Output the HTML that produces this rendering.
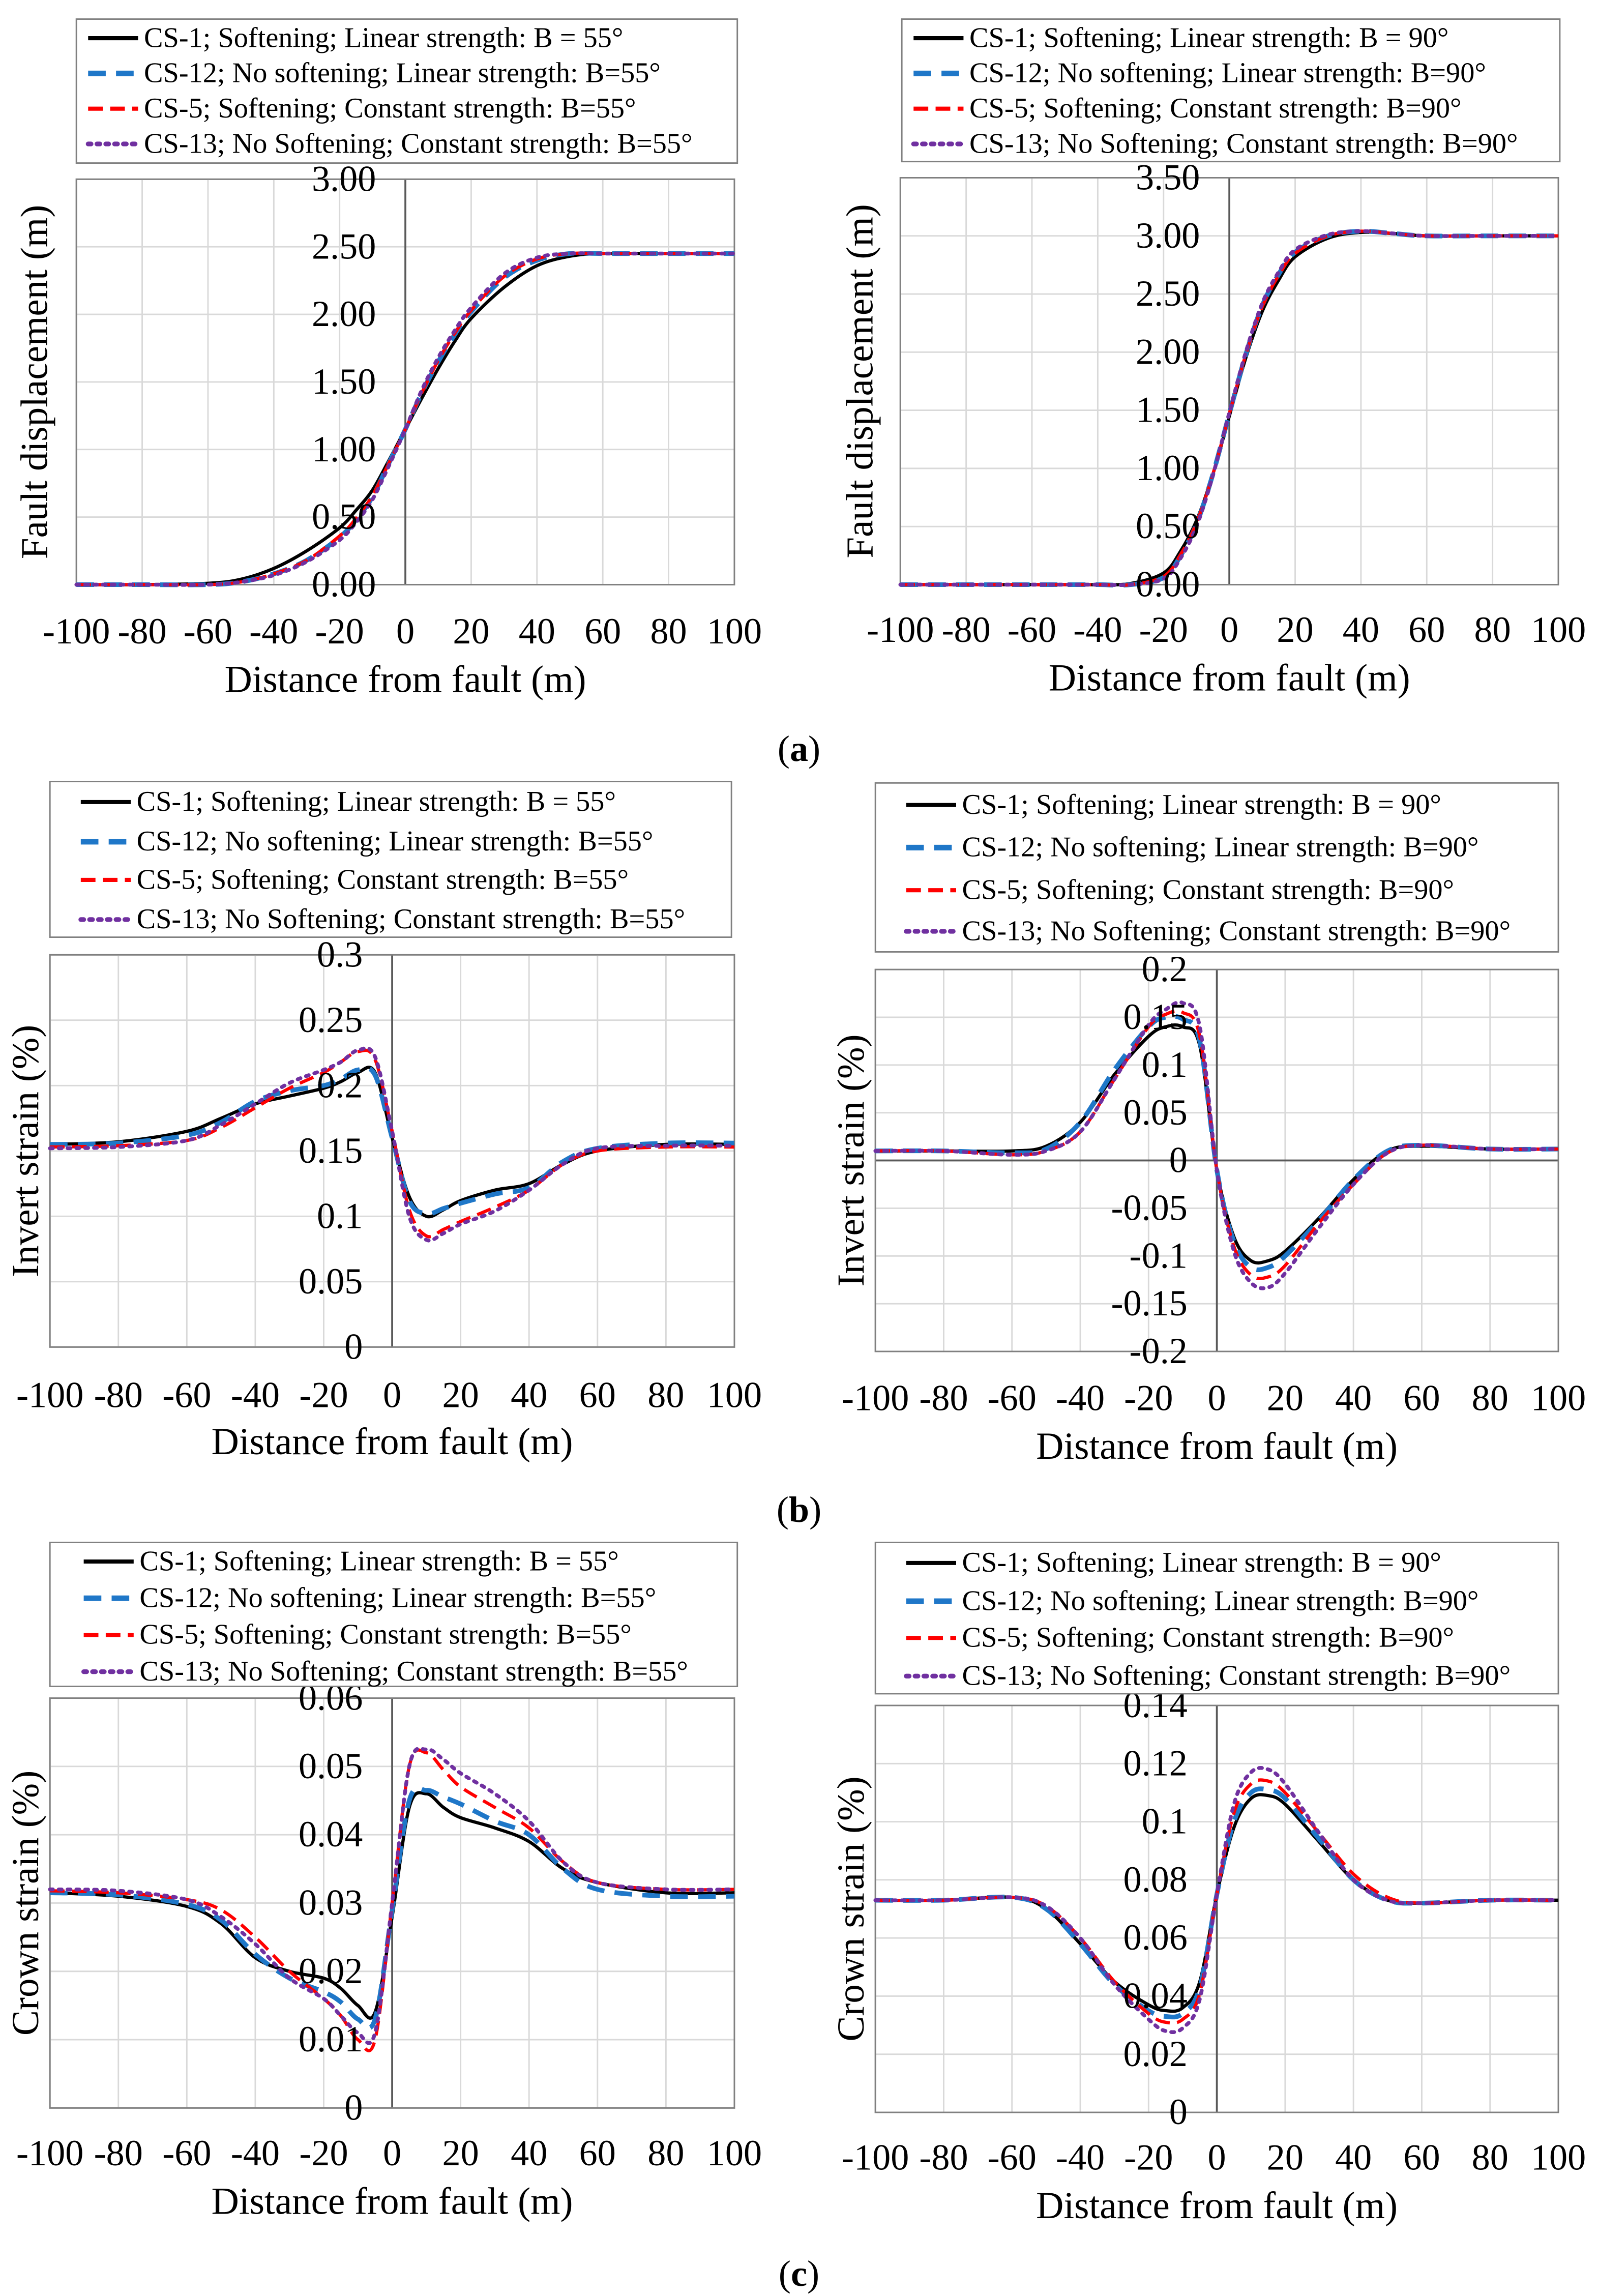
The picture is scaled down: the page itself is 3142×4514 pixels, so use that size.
<!DOCTYPE html>
<html><head><meta charset="utf-8">
<style>
html,body{margin:0;padding:0;background:#fff;}
svg{display:block;font-family:"Liberation Serif",serif;}
</style></head>
<body>
<svg id="fig" width="3142" height="4514" viewBox="0 0 1088 1563" preserveAspectRatio="none" xmlns="http://www.w3.org/2000/svg"></svg>
<script>
const xs = [-100,-80,-60,-50,-40,-30,-20,-15,-10,-5,0,5,10,15,20,30,40,50,60,80,100];
const xTicks = [-100,-80,-60,-40,-20,0,20,40,60,80,100];

// (a) left
const aL_cs1  = [0,0,0.01,0.04,0.12,0.25,0.42,0.55,0.7,0.92,1.15,1.38,1.6,1.8,1.97,2.2,2.36,2.43,2.45,2.45,2.45];
const aL_cs12 = [0,0,0,0.02,0.08,0.18,0.35,0.48,0.65,0.9,1.15,1.42,1.65,1.85,2.02,2.27,2.4,2.45,2.45,2.45,2.45];
const aL_cs5  = [0,0,0,0.02,0.08,0.18,0.36,0.49,0.66,0.9,1.15,1.42,1.66,1.86,2.03,2.28,2.41,2.45,2.45,2.45,2.45];
const aL_cs13 = [0,0,0,0.02,0.07,0.17,0.33,0.46,0.63,0.88,1.15,1.44,1.68,1.88,2.05,2.3,2.42,2.45,2.45,2.45,2.45];
// (a) right
const aR_cs1  = [0,0,0,0,0,0.01,0.1,0.28,0.55,0.95,1.45,1.95,2.35,2.62,2.82,2.98,3.03,3.02,3.0,3.0,3.0];
const aR_cs12 = [0,0,0,0,0,0,0.06,0.24,0.52,0.95,1.47,1.98,2.4,2.67,2.86,3.0,3.04,3.02,3.0,3.0,3.0];
const aR_cs5  = [0,0,0,0,0,0,0.07,0.25,0.53,0.95,1.47,1.98,2.39,2.66,2.85,3.0,3.04,3.02,3.0,3.0,3.0];
const aR_cs13 = [0,0,0,0,0,0,0.05,0.22,0.5,0.94,1.48,2.0,2.42,2.69,2.88,3.01,3.04,3.02,3.0,3.0,3.0];
// (b) left
const bL_cs1  = [0.155,0.157,0.165,0.175,0.186,0.192,0.198,0.203,0.21,0.21,0.16,0.115,0.1,0.105,0.112,0.12,0.125,0.14,0.15,0.155,0.155];
const bL_cs12 = [0.155,0.156,0.162,0.172,0.188,0.196,0.2,0.205,0.212,0.208,0.16,0.112,0.102,0.106,0.11,0.117,0.122,0.142,0.152,0.156,0.156];
const bL_cs5  = [0.153,0.154,0.158,0.168,0.183,0.198,0.21,0.218,0.226,0.22,0.165,0.105,0.085,0.09,0.096,0.107,0.12,0.14,0.15,0.153,0.153];
const bL_cs13 = [0.152,0.153,0.158,0.17,0.186,0.202,0.212,0.218,0.227,0.222,0.165,0.1,0.082,0.087,0.094,0.104,0.12,0.14,0.152,0.154,0.154];
// (b) right
const bR_cs1  = [0.01,0.01,0.01,0.015,0.04,0.09,0.13,0.14,0.14,0.12,-0.01,-0.08,-0.105,-0.105,-0.095,-0.06,-0.02,0.01,0.015,0.012,0.012];
const bR_cs12 = [0.01,0.01,0.008,0.012,0.04,0.095,0.14,0.15,0.148,0.125,-0.01,-0.085,-0.112,-0.112,-0.1,-0.062,-0.02,0.01,0.016,0.012,0.012];
const bR_cs5  = [0.01,0.01,0.006,0.01,0.03,0.085,0.14,0.153,0.155,0.13,-0.01,-0.09,-0.12,-0.122,-0.11,-0.065,-0.025,0.008,0.016,0.012,0.012];
const bR_cs13 = [0.01,0.01,0.006,0.01,0.03,0.085,0.142,0.158,0.165,0.14,-0.01,-0.095,-0.128,-0.133,-0.118,-0.07,-0.025,0.008,0.016,0.012,0.012];
// (c) left
const cL_cs1  = [0.0315,0.031,0.0295,0.027,0.022,0.02,0.019,0.0175,0.015,0.014,0.028,0.044,0.046,0.044,0.0425,0.041,0.039,0.035,0.033,0.0315,0.0315];
const cL_cs12 = [0.0315,0.0312,0.0298,0.0275,0.0225,0.019,0.017,0.0155,0.013,0.013,0.029,0.045,0.0465,0.0455,0.0445,0.042,0.04,0.035,0.032,0.031,0.031];
const cL_cs5  = [0.0318,0.0315,0.0305,0.029,0.025,0.02,0.016,0.0135,0.01,0.01,0.03,0.05,0.052,0.0495,0.047,0.044,0.041,0.036,0.033,0.032,0.032];
const cL_cs13 = [0.032,0.0318,0.0305,0.028,0.024,0.019,0.016,0.0135,0.011,0.011,0.03,0.05,0.0525,0.051,0.049,0.046,0.042,0.036,0.033,0.032,0.032];
// (c) right
const cR_cs1  = [0.073,0.073,0.074,0.07,0.058,0.045,0.037,0.035,0.036,0.045,0.075,0.098,0.108,0.109,0.106,0.093,0.08,0.073,0.072,0.073,0.073];
const cR_cs12 = [0.073,0.073,0.074,0.07,0.058,0.044,0.035,0.033,0.034,0.043,0.075,0.1,0.11,0.111,0.108,0.094,0.08,0.073,0.072,0.073,0.073];
const cR_cs5  = [0.073,0.073,0.074,0.071,0.06,0.045,0.034,0.031,0.032,0.041,0.075,0.103,0.113,0.114,0.11,0.096,0.082,0.074,0.072,0.073,0.073];
const cR_cs13 = [0.073,0.073,0.074,0.071,0.06,0.044,0.032,0.028,0.029,0.039,0.075,0.106,0.117,0.118,0.113,0.096,0.08,0.073,0.072,0.073,0.073];

const svg = document.getElementById('fig');
const NS = 'http://www.w3.org/2000/svg';
function mk(tag, attrs, parent){const e=document.createElementNS(NS,tag);for(const k in attrs)e.setAttribute(k,attrs[k]);(parent||svg).appendChild(e);return e;}
function txt(x,y,s,size,anchor,parent,rot){const t=mk('text',{x:x,y:y,'font-size':size,'text-anchor':anchor||'middle',fill:'#000'},parent);if(rot)t.setAttribute('transform','rotate(-90 '+x+' '+y+')');t.textContent=s;return t;}
function pathD(pts){let d='M'+pts[0][0]+','+pts[0][1];for(let i=0;i<pts.length-1;i++){const p0=pts[Math.max(0,i-1)],p1=pts[i],p2=pts[i+1],p3=pts[Math.min(pts.length-1,i+2)];const c1x=p1[0]+(p2[0]-p0[0])/6,c1y=p1[1]+(p2[1]-p0[1])/6,c2x=p2[0]-(p3[0]-p1[0])/6,c2y=p2[1]-(p3[1]-p1[1])/6;d+=' C'+c1x+','+c1y+' '+c2x+','+c2y+' '+p2[0]+','+p2[1];}return d;}

const styles=[
 {stroke:'#000',w:2.2,dash:''},
 {stroke:'#1f77c8',w:3.2,dash:'12,7'},
 {stroke:'#ff0000',w:2.2,dash:'10,5'},
 {stroke:'#7030a0',w:2.6,dash:'2,4'}
];

function panel(cfg){
  const g=mk('g',{});
  
  
  const {x0,x1,y0,y1,ymin,ymax,ystep}=cfg;
  const X=v=>x0+(v+100)/200*(x1-x0);
  const Y=v=>y1-(v-ymin)/(ymax-ymin)*(y1-y0);
  const pb=mk('rect',{x:x0,y:y0,width:x1-x0,height:y1-y0,fill:'#fff',stroke:'#808080','stroke-width':1},g);
  
  
  xTicks.forEach(t=>{mk('line',{x1:X(t),x2:X(t),y1:y0,y2:y1,stroke:'#d9d9d9','stroke-width':1},g);});
  const n=Math.round((ymax-ymin)/ystep);
  for(let i=0;i<=n;i++){const v=ymin+i*ystep;mk('line',{x1:x0,x2:x1,y1:Y(v),y2:Y(v),stroke:'#d9d9d9','stroke-width':1},g);}
  mk('line',{x1:X(0),x2:X(0),y1:y0,y2:y1,stroke:'#595959','stroke-width':1.3},g);
  if(ymin<0) mk('line',{x1:x0,x2:x1,y1:Y(0),y2:Y(0),stroke:'#595959','stroke-width':1.3},g);
  mk('rect',{x:x0,y:y0,width:x1-x0,height:y1-y0,fill:'none',stroke:'#808080','stroke-width':1},g);
  cfg.series.forEach((s,i)=>{
    const pts=xs.map((x,j)=>[X(x),Y(s[j])]);
    const p=mk('path',{d:pathD(pts),fill:'none',stroke:styles[i].stroke,'stroke-width':styles[i].w,'stroke-dasharray':styles[i].dash,'stroke-linecap':i==3?'round':'butt'},g);
    
    
  });
  for(let i=0;i<=n;i++){const v=ymin+i*ystep;const t=txt(X(0)-20,Y(v)+8,cfg.fmt(v),25,'end',g);
    
    }
  xTicks.forEach(t=>{const e=txt(X(t),cfg.xly,String(t),25,'middle',g);
    
    });
  const xt=txt((x0+x1)/2,cfg.xty,'Distance from fault (m)',26,'middle',g);
  
  
  const yt=txt(cfg.ytx,(y0+y1)/2,cfg.ytitle,26,'middle',g,true);
  
  
  const L=cfg.leg;
  const lg=mk('g',{},g);
  
  
  mk('rect',{x:L.x0,y:L.y0,width:L.x1-L.x0,height:L.y1-L.y0,fill:'#fff',stroke:'#808080','stroke-width':1},lg);
  cfg.labels.forEach((lab,i)=>{
    const yy=L.ly[i];
    mk('line',{x1:L.sx,x2:L.sx+34,y1:yy,y2:yy,stroke:styles[i].stroke,'stroke-width':styles[i].w+0.6,'stroke-dasharray':styles[i].dash,'stroke-linecap':i==3?'round':'butt'},lg);
    const t=txt(L.sx+38,yy+6,lab,19.5,'start',lg);
    
    
  });
}
const lab55=['CS-1; Softening; Linear strength: B = 55°','CS-12; No softening; Linear strength: B=55°','CS-5; Softening; Constant strength: B=55°','CS-13; No Softening; Constant strength: B=55°'];
const lab90=['CS-1; Softening; Linear strength: B = 90°','CS-12; No softening; Linear strength: B=90°','CS-5; Softening; Constant strength: B=90°','CS-13; No Softening; Constant strength: B=90°'];
const f2=v=>v.toFixed(2);
const fg=v=>{let s=(Math.round(v*1000)/1000).toString();return s;};

panel({name:'panel-a-left',x0:52,x1:500,y0:122,y1:398,ymin:0,ymax:3,ystep:0.5,fmt:f2,series:[aL_cs1,aL_cs12,aL_cs5,aL_cs13],labels:lab55,xly:438,xty:471,ytx:32,ytitle:'Fault displacement (m)',leg:{x0:52,x1:502,y0:13,y1:111,sx:60,ly:[26,50,74,98]}});
panel({name:'panel-a-right',x0:613,x1:1061,y0:121,y1:398,ymin:0,ymax:3.5,ystep:0.5,fmt:f2,series:[aR_cs1,aR_cs12,aR_cs5,aR_cs13],labels:lab90,xly:437,xty:470,ytx:594,ytitle:'Fault displacement (m)',leg:{x0:614,x1:1062,y0:13,y1:110,sx:622,ly:[26,50,74,98]}});
panel({name:'panel-b-left',x0:34,x1:500,y0:650,y1:917,ymin:0,ymax:0.3,ystep:0.05,fmt:fg,series:[bL_cs1,bL_cs12,bL_cs5,bL_cs13],labels:lab55,xly:958,xty:990,ytx:26,ytitle:'Invert strain (%)',leg:{x0:34,x1:498,y0:532,y1:638,sx:55,ly:[546,573,599,626]}});
panel({name:'panel-b-right',x0:596,x1:1061,y0:660,y1:920,ymin:-0.2,ymax:0.2,ystep:0.05,fmt:fg,series:[bR_cs1,bR_cs12,bR_cs5,bR_cs13],labels:lab90,xly:960,xty:993,ytx:588,ytitle:'Invert strain (%)',leg:{x0:596,x1:1061,y0:533,y1:648,sx:617,ly:[548,577,606,634]}});
panel({name:'panel-c-left',x0:34,x1:500,y0:1156,y1:1435,ymin:0,ymax:0.06,ystep:0.01,fmt:fg,series:[cL_cs1,cL_cs12,cL_cs5,cL_cs13],labels:lab55,xly:1474,xty:1507,ytx:26,ytitle:'Crown strain (%)',leg:{x0:34,x1:502,y0:1050,y1:1148,sx:57,ly:[1063,1088,1113,1138]}});
panel({name:'panel-c-right',x0:596,x1:1061,y0:1161,y1:1438,ymin:0,ymax:0.14,ystep:0.02,fmt:fg,series:[cR_cs1,cR_cs12,cR_cs5,cR_cs13],labels:lab90,xly:1477,xty:1510,ytx:588,ytitle:'Crown strain (%)',leg:{x0:596,x1:1061,y0:1050,y1:1153,sx:617,ly:[1064,1090,1115,1141]}});

[['(a)',518],['(b)',1036],['(c)',1556]].forEach(([s,y])=>{
  const t=mk('text',{x:544,y:y,'font-size':25,'text-anchor':'middle'});
  
  
  const a=mk('tspan',{},t);a.textContent='(';
  const b=mk('tspan',{'font-weight':'bold'},t);b.textContent=s[1];
  const c=mk('tspan',{},t);c.textContent=')';
});
</script>
</body></html>
